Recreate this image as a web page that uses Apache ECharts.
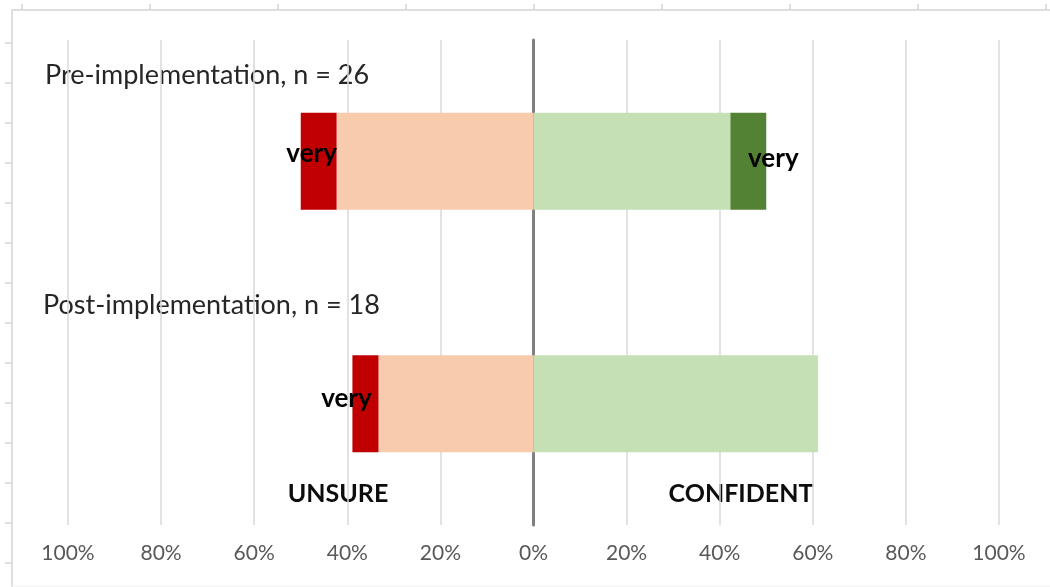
<!DOCTYPE html>
<html>
<head>
<meta charset="utf-8">
<script src="https://cdn.jsdelivr.net/npm/echarts@6/dist/echarts.min.js"></script>
<style>
  html, body { margin: 0; padding: 0; background: #ffffff; }
  #chart { width: 1050px; height: 587px; }
</style>
</head>
<body>
<div id="chart"></div>
<script>
// Survey groups, top to bottom
const groups = ['Pre-implementation', 'Post-implementation'];
const groupTitles = ['Pre-implementation, n = 26', 'Post-implementation, n = 18'];

// Share of respondents (%) per answer
const veryUnsure    = [7.7, 5.6];
const unsure        = [42.3, 33.3];
const confident     = [42.3, 61.1];
const veryConfident = [7.7, 0];

// Axis ticks (percent, shown without sign)
const xTicks = [-100, -80, -60, -40, -20, 0, 20, 40, 60, 80, 100];

const sideLabels = ['UNSURE', 'CONFIDENT'];

// Offsets nudging the "very" labels off the segment centres
const veryUnsureLabelShift = [[-7, -8], [-19, -5]];
const veryConfidentLabelShift = [[25, -3], [0, 0]];

const chart = echarts.init(document.getElementById('chart'));

const veryLabel = {
  show: true,
  position: 'inside',
  formatter: 'very',
  color: '#000000',
  fontFamily: 'Lato',
  fontWeight: 'bold',
  fontSize: 26
};

function negate(arr) { return arr.map(v => -v); }

function withLabelShift(values, shifts) {
  return values.map((v, i) => ({
    value: v,
    label: { offset: shifts[i], show: v !== 0 }
  }));
}

const frameColor = '#dedede';
const frame = [
  { type: 'line', shape: { x1: 11, y1: 10, x2: 1050, y2: 10 }, style: { stroke: frameColor, lineWidth: 2 } },
  { type: 'line', shape: { x1: 12, y1: 9, x2: 12, y2: 587 }, style: { stroke: frameColor, lineWidth: 2 } },
  { type: 'line', shape: { x1: 11, y1: 586, x2: 1050, y2: 586 }, style: { stroke: '#f0f0f0', lineWidth: 1 } }
];
for (let i = 0; i < 9; i++) {
  const x = 22 + i * 128;
  frame.push({ type: 'line', shape: { x1: x, y1: 4, x2: x, y2: 10 }, style: { stroke: frameColor, lineWidth: 2 } });
}
for (let i = 0; i < 14; i++) {
  const y = 43 + i * 40;
  frame.push({ type: 'line', shape: { x1: 5, y1: y, x2: 12, y2: y }, style: { stroke: frameColor, lineWidth: 2 } });
}

function titleText(text, x, y) {
  return {
    type: 'text',
    style: { text, x, y, align: 'left', verticalAlign: 'middle', fill: '#262626', font: '27px Lato' }
  };
}
function sideText(text, x, y) {
  return {
    type: 'text',
    style: { text, x, y, align: 'center', verticalAlign: 'middle', fill: '#0d0d0d', font: 'bold 25px Lato' }
  };
}

chart.setOption({
  animation: false,
  backgroundColor: '#ffffff',
  grid: { left: 68, right: 51, top: 40, bottom: 62, containLabel: false },
  xAxis: {
    type: 'value',
    min: -100,
    max: 100,
    interval: 20,
    axisLine: { show: false },
    axisTick: { show: false },
    axisLabel: {
      color: '#595959',
      fontFamily: 'Lato',
      fontSize: 21,
      margin: 18,
      formatter: v => (xTicks.includes(v) ? Math.abs(v) + '%' : '')
    },
    splitLine: { show: true, lineStyle: { color: '#d9d9d9', width: 1.5 } }
  },
  yAxis: {
    type: 'category',
    data: groups,
    inverse: true,
    axisLine: { show: true, onZero: true, lineStyle: { color: '#808080', width: 3 } },
    axisTick: { show: false },
    axisLabel: { show: false },
    splitLine: { show: false }
  },
  series: [
    {
      name: 'Unsure',
      type: 'bar',
      stack: 'total',
      barWidth: '40%',
      itemStyle: { color: '#F8CBAD' },
      data: negate(unsure)
    },
    {
      name: 'Very unsure',
      type: 'bar',
      stack: 'total',
      barWidth: '40%',
      itemStyle: { color: '#C00000' },
      label: veryLabel,
      data: withLabelShift(negate(veryUnsure), veryUnsureLabelShift)
    },
    {
      name: 'Confident',
      type: 'bar',
      stack: 'total',
      barWidth: '40%',
      itemStyle: { color: '#C5E0B4' },
      data: confident
    },
    {
      name: 'Very confident',
      type: 'bar',
      stack: 'total',
      barWidth: '40%',
      itemStyle: { color: '#548235' },
      label: veryLabel,
      data: withLabelShift(veryConfident, veryConfidentLabelShift)
    }
  ],
  graphic: frame.concat([
    titleText(groupTitles[0], 45, 75),
    titleText(groupTitles[1], 43, 305),
    sideText(sideLabels[0], 338, 494),
    sideText(sideLabels[1], 741, 494)
  ])
});
</script>
</body>
</html>
